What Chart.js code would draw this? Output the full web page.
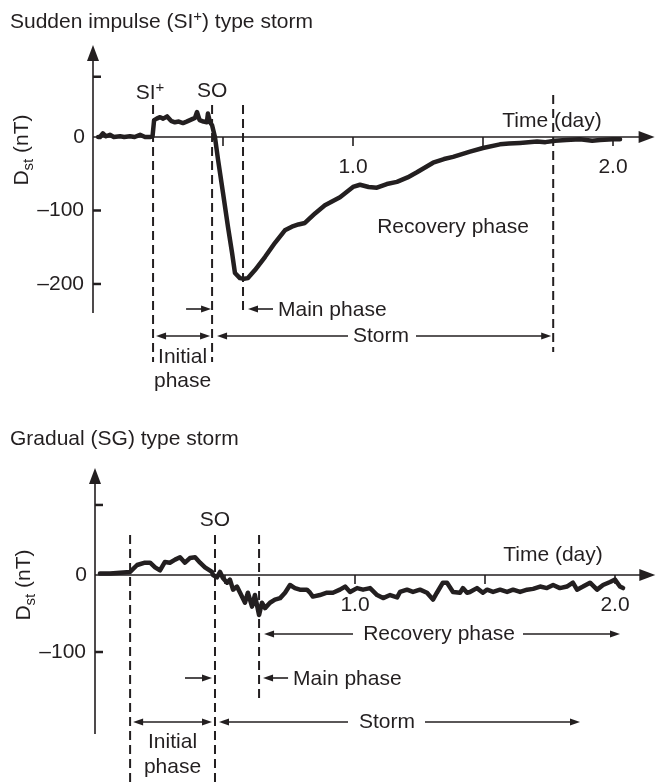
<!DOCTYPE html>
<html>
<head>
<meta charset="utf-8">
<title>Dst storm types</title>
<script src="https://cdn.jsdelivr.net/npm/chart.js@4.4.1/dist/chart.umd.min.js"></script>
<style>
    html, body { margin: 0; padding: 0; background: #fff; }
    .box { position: relative; width: 656px; height: 392px; }
</style>
</head>
<body>
<div class="box"><canvas id="si_chart"></canvas></div>
<div class="box"><canvas id="sg_chart"></canvas></div>
<script>
// sudden impulse storm: Dst (nT) against time (day)
var si_days = [0.02, 0.027, 0.038, 0.05, 0.065, 0.08, 0.104, 0.12, 0.142, 0.16, 0.181, 0.2, 0.219, 0.229,
    0.235, 0.245, 0.258, 0.27, 0.285, 0.3, 0.315, 0.33, 0.346, 0.36, 0.373, 0.392, 0.4, 0.41, 0.425, 0.438,
    0.442, 0.45, 0.458, 0.469, 0.481, 0.5, 0.519, 0.535, 0.546, 0.565, 0.58, 0.596, 0.623, 0.662, 0.7,
    0.738, 0.765, 0.79, 0.815, 0.854, 0.892, 0.95, 1.0, 1.027, 1.06, 1.092, 1.13, 1.169, 1.21, 1.246,
    1.308, 1.35, 1.385, 1.45, 1.5, 1.565, 1.6, 1.642, 1.708, 1.74, 1.777, 1.82, 1.873, 1.92, 1.95, 2.0, 2.027];
var si_dst = [0, 0, 5, 1, 3, 0, 1, 0, 1, 0, 3, 0, 0, 1,
    23, 25, 27, 25, 28, 22, 20, 21, 19, 21, 23, 26, 34, 23, 21, 20,
    32, 20, 16, 0, -31, -76, -122, -158, -185, -192, -193, -192, -181, -163, -144,
    -127, -122, -119, -117, -104, -93, -82, -68, -65, -68, -69, -64, -61, -55, -48,
    -35, -30, -27, -20, -15, -10, -9, -8, -6, -7, -5, -4, -3, -5, -4, -3, -3];
// SI+, SO, end of main phase, end of storm
var si_events = [0.231, 0.458, 0.577, 1.77];
var si_yticks = [82, -100, -200];
var si_ylabels = ['', '\u2013100', '\u2013200'];

// gradual storm
var sg_days = [0.019, 0.058, 0.096, 0.135, 0.162, 0.192, 0.212, 0.231, 0.25, 0.269, 0.288, 0.308, 0.327,
    0.346, 0.365, 0.385, 0.404, 0.423, 0.45, 0.454, 0.469, 0.481, 0.492, 0.508, 0.519, 0.531, 0.546, 0.558,
    0.577, 0.588, 0.604, 0.615, 0.631, 0.642, 0.654, 0.673, 0.692, 0.712, 0.731, 0.75, 0.769, 0.788, 0.815,
    0.827, 0.838, 0.865, 0.892, 0.915, 0.942, 0.962, 0.981, 1.008, 1.031, 1.058, 1.085, 1.108, 1.135, 1.162,
    1.173, 1.2, 1.223, 1.25, 1.277, 1.3, 1.315, 1.338, 1.354, 1.377, 1.404, 1.415, 1.431, 1.442, 1.469,
    1.492, 1.508, 1.531, 1.558, 1.585, 1.608, 1.635, 1.662, 1.685, 1.712, 1.738, 1.762, 1.788, 1.815,
    1.838, 1.854, 1.877, 1.904, 1.931, 1.954, 1.981, 2.0, 2.019, 2.031];
var sg_dst = [2, 2, 3, 4, 13, 16, 16, 10, 6, 17, 16, 20, 23,
    16, 22, 23, 16, 10, 4, 0, -3, 4, -4, -10, -6, -19, -15, -23,
    -36, -23, -41, -26, -52, -36, -43, -36, -32, -30, -23, -13, -17, -19, -19,
    -23, -28, -26, -23, -23, -19, -15, -22, -17, -19, -17, -26, -30, -26, -29,
    -22, -19, -22, -19, -23, -32, -23, -10, -10, -22, -23, -17, -23, -22, -17,
    -23, -19, -22, -19, -22, -19, -22, -19, -18, -15, -17, -13, -17, -15,
    -10, -19, -15, -10, -19, -13, -9, -6, -15, -17];
// onset, SO, end of main phase
var sg_events = [0.135, 0.4615, 0.631];
var sg_yticks = [91, -100];
var sg_ylabels = ['', '\u2013100'];

var x_ticks = [0.5, 1.0, 1.5, 2.0];
var x_labels = ['', '1.0', '', '2.0'];

var ink = '#231f20';
var fsize = 21;

function Font(size) {
    return size + 'px "Liberation Sans", Arial, sans-serif';
}

function Text(ctx, str, x, y, align, size) {
    ctx.font = Font(size || fsize);
    ctx.textAlign = align || 'center';
    ctx.textBaseline = 'middle';
    ctx.fillStyle = ink;
    ctx.fillText(str, x, y);
}

// parts: [text, size, shift]  (shift > 0 moves down)
function RichText(ctx, parts, x, y, align) {
    var total = 0;
    for (var i = 0; i < parts.length; i++) {
        ctx.font = Font(parts[i][1]);
        total += ctx.measureText(parts[i][0]).width;
    }
    var cx = x;
    if (align == 'center') cx = x - total / 2;
    ctx.textAlign = 'left';
    ctx.textBaseline = 'alphabetic';
    ctx.fillStyle = ink;
    for (var i = 0; i < parts.length; i++) {
        ctx.font = Font(parts[i][1]);
        ctx.fillText(parts[i][0], cx, y + 7.5 + parts[i][2]);
        cx += ctx.measureText(parts[i][0]).width;
    }
}

function Head(ctx, x, y, dir, len, half) {
    ctx.beginPath();
    if (dir == 'right') { ctx.moveTo(x, y); ctx.lineTo(x - len, y - half); ctx.lineTo(x - len, y + half); }
    if (dir == 'left') { ctx.moveTo(x, y); ctx.lineTo(x + len, y - half); ctx.lineTo(x + len, y + half); }
    if (dir == 'up') { ctx.moveTo(x, y); ctx.lineTo(x - half, y + len); ctx.lineTo(x + half, y + len); }
    ctx.closePath();
    ctx.fill();
}

function Arrow(ctx, x1, x2, y, left_head, right_head) {
    ctx.strokeStyle = ink;
    ctx.fillStyle = ink;
    ctx.lineWidth = 1.6;
    ctx.setLineDash([]);
    ctx.beginPath();
    ctx.moveTo(left_head ? x1 + 8 : x1, y);
    ctx.lineTo(right_head ? x2 - 8 : x2, y);
    ctx.stroke();
    if (left_head) Head(ctx, x1, y, 'left', 10, 3.5);
    if (right_head) Head(ctx, x2, y, 'right', 10, 3.5);
}

function Dashed(ctx, x, y1, y2) {
    ctx.strokeStyle = ink;
    ctx.lineWidth = 2;
    ctx.setLineDash([9, 5]);
    ctx.beginPath();
    ctx.moveTo(x, y1);
    ctx.lineTo(x, y2);
    ctx.stroke();
    ctx.setLineDash([]);
}

function DstLabel(ctx, x, y) {
    ctx.save();
    ctx.translate(x, y);
    ctx.rotate(-Math.PI / 2);
    RichText(ctx, [['D', fsize, 0], ['st', 15, 5], [' (nT)', fsize, 0]], 0, 0, 'center');
    ctx.restore();
}

function DrawAxes(chart, yticks, ylabels) {
    var ctx = chart.ctx;
    var xs = chart.scales.x, ys = chart.scales.y;
    var area = chart.chartArea;
    var x0 = xs.getPixelForValue(0);
    var y0 = ys.getPixelForValue(0);
    ctx.save();
    ctx.strokeStyle = ink;
    ctx.fillStyle = ink;
    ctx.lineWidth = 1.6;
    ctx.beginPath();
    ctx.moveTo(x0, area.bottom);
    ctx.lineTo(x0, area.top + 10);
    ctx.moveTo(x0, y0);
    ctx.lineTo(area.right - 10, y0);
    ctx.stroke();
    Head(ctx, x0, area.top, 'up', 16, 6);
    Head(ctx, area.right, y0, 'right', 16, 6);

    for (var i = 0; i < x_ticks.length; i++) {
        var px = xs.getPixelForValue(x_ticks[i]);
        ctx.beginPath();
        ctx.moveTo(px, y0);
        ctx.lineTo(px, y0 + 9);
        ctx.stroke();
        if (x_labels[i] != '') Text(ctx, x_labels[i], px, y0 + 30, 'center');
    }
    for (var j = 0; j < yticks.length; j++) {
        var py = ys.getPixelForValue(yticks[j]);
        ctx.lineWidth = 2.5;
        ctx.beginPath();
        ctx.moveTo(x0, py);
        ctx.lineTo(x0 + 8, py);
        ctx.stroke();
        if (ylabels[j] != '') Text(ctx, ylabels[j], x0 - 9, py, 'right');
    }
    Text(ctx, '0', x0 - 14, y0, 'center');
    ctx.restore();
}

var si_decor = {
    id: 'si_decor',
    beforeDatasetsDraw: function (chart) {
        var ctx = chart.ctx;
        var xs = chart.scales.x;
        var ev = si_events.map(function (d) { return xs.getPixelForValue(d); });
        ctx.save();
        RichText(ctx, [['Sudden impulse (SI', fsize, 0], ['+', 15, -7], [') type storm', fsize, 0]], 10, 20, 'left');
        DstLabel(ctx, 20, 150);
        DrawAxes(chart, si_yticks, si_ylabels);

        RichText(ctx, [['SI', fsize, 0], ['+', 15, -7]], ev[0] - 3, 91, 'center');
        Text(ctx, 'SO', ev[1], 91, 'center');
        Text(ctx, 'Time (day)', 552, 121, 'center');
        Text(ctx, 'Recovery phase', 453, 227, 'center');

        Dashed(ctx, ev[0], 105, 362);
        Dashed(ctx, ev[1], 105, 362);
        Dashed(ctx, ev[2], 105, 313);
        Dashed(ctx, ev[3], 95, 352);

        Arrow(ctx, ev[1] - 26, ev[1] - 1, 309, false, true);
        Arrow(ctx, ev[2] + 5, ev[2] + 30, 309, true, false);
        Text(ctx, 'Main phase', ev[2] + 35, 310, 'left');

        Arrow(ctx, ev[0] + 3, ev[1] - 2, 336, true, true);
        Text(ctx, 'Initial', (ev[0] + ev[1]) / 2, 357, 'center');
        Text(ctx, 'phase', (ev[0] + ev[1]) / 2, 381, 'center');

        Arrow(ctx, ev[1] + 5, 348, 336, true, false);
        Text(ctx, 'Storm', 381, 336, 'center');
        Arrow(ctx, 416, ev[3] - 2, 336, false, true);
        ctx.restore();
    }
};

var sg_decor = {
    id: 'sg_decor',
    beforeDatasetsDraw: function (chart) {
        var ctx = chart.ctx;
        var xs = chart.scales.x;
        var ev = sg_events.map(function (d) { return xs.getPixelForValue(d); });
        ctx.save();
        Text(ctx, 'Gradual (SG) type storm', 10, 47, 'left');
        DstLabel(ctx, 22, 193);
        DrawAxes(chart, sg_yticks, sg_ylabels);

        Text(ctx, 'SO', ev[1], 128, 'center');
        Text(ctx, 'Time (day)', 553, 163, 'center');

        Dashed(ctx, ev[0], 143, 392);
        Dashed(ctx, ev[1], 143, 392);
        Dashed(ctx, ev[2], 143, 310);

        Arrow(ctx, ev[2] + 5, 353, 242, true, false);
        Text(ctx, 'Recovery phase', 439, 242, 'center');
        Arrow(ctx, 523, 620, 242, false, true);

        Arrow(ctx, ev[1] - 30, ev[1] - 3, 286, false, true);
        Arrow(ctx, ev[2] + 4, ev[2] + 29, 286, true, false);
        Text(ctx, 'Main phase', ev[2] + 34, 287, 'left');

        Arrow(ctx, ev[0] + 3, ev[1] - 3, 330, true, true);
        Text(ctx, 'Initial', (ev[0] + ev[1]) / 2, 350, 'center');
        Text(ctx, 'phase', (ev[0] + ev[1]) / 2, 375, 'center');

        Arrow(ctx, ev[1] + 4, 348, 330, true, false);
        Text(ctx, 'Storm', 387, 330, 'center');
        Arrow(ctx, 425, 580, 330, false, true);
        ctx.restore();
    }
};

function MakeChart(id, days, dst, ymin, ymax, xmax, padding, decor) {
    var points = [];
    for (var i = 0; i < days.length; i++) {
        points.push({ x: days[i], y: dst[i] });
    }
    return new Chart(document.getElementById(id), {
        type: 'line',
        data: {
            datasets: [{
                data: points,
                borderColor: ink,
                borderWidth: 4.5,
                borderJoinStyle: 'round',
                borderCapStyle: 'round',
                pointRadius: 0,
                tension: 0,
                fill: false,
                clip: false
            }]
        },
        options: {
            responsive: true,
            maintainAspectRatio: false,
            animation: false,
            devicePixelRatio: 1,
            layout: { padding: padding },
            plugins: { legend: { display: false }, tooltip: { enabled: false } },
            scales: {
                x: { type: 'linear', min: 0, max: xmax, display: false },
                y: { type: 'linear', min: ymin, max: ymax, display: false }
            }
        },
        plugins: [decor]
    });
}

window.addEventListener('load', function () {
    MakeChart('si_chart', si_days, si_dst, -239.5, 125.2, 2.16,
        { top: 45, bottom: 79, left: 93, right: 1.4 }, si_decor);
    MakeChart('sg_chart', sg_days, sg_dst, -206.5, 139, 2.155,
        { top: 76, bottom: 50, left: 95, right: 0.7 }, sg_decor);
});
</script>
</body>
</html>
